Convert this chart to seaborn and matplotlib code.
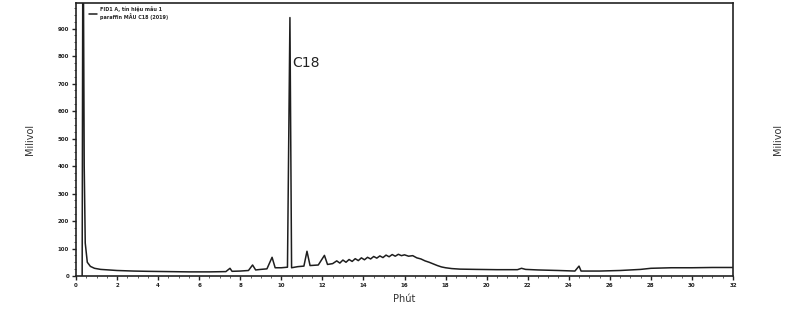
import matplotlib
matplotlib.use("Agg")
import matplotlib.pyplot as plt
import seaborn as sns
import pandas as pd
from matplotlib.ticker import MultipleLocator

sns.set_theme(style="white")
plt.rcParams['font.family'] = ['DejaVu Sans']

# Retention time (minutes) and detector signal (millivolt)
time_min = [0.30, 0.33, 0.36, 0.40, 0.45, 0.55, 0.70, 0.90, 1.20, 1.60, 2.00, 2.80,
            3.50, 4.50, 5.50, 6.50, 7.30, 7.50, 7.60, 8.00, 8.40, 8.60, 8.75, 9.00,
            9.30, 9.55, 9.70, 10.00, 10.30, 10.42, 10.50, 10.80, 11.10, 11.25, 11.40,
            11.80, 12.10, 12.25, 12.50, 12.70, 12.85, 13.00, 13.15, 13.30, 13.45,
            13.60, 13.75, 13.90, 14.05, 14.20, 14.35, 14.50, 14.65, 14.80, 14.95,
            15.10, 15.25, 15.40, 15.55, 15.70, 15.85, 16.00, 16.20, 16.40, 16.60,
            16.80, 17.00, 17.20, 17.40, 17.60, 17.80, 18.00, 18.30, 18.70, 19.50,
            20.50, 21.50, 21.70, 21.90, 22.50, 23.50, 24.30, 24.50, 24.60, 25.50,
            26.50, 27.50, 28.00, 29.00, 30.00, 31.00, 32.00]
signal_mv = [0, 1100, 1100, 400, 120, 50, 35, 28, 24, 22, 20, 18,
             17, 16, 15, 15, 16, 28, 17, 18, 20, 40, 22, 24,
             26, 68, 30, 30, 32, 940, 30, 34, 36, 90, 38,
             40, 75, 42, 45, 55, 47, 58, 50, 60, 53,
             63, 56, 66, 59, 68, 62, 71, 65, 73, 67,
             76, 70, 78, 72, 79, 74, 77, 72, 74, 66,
             62, 55, 50, 44, 38, 33, 30, 27, 25, 24,
             23, 23, 28, 24, 22, 20, 18, 36, 18, 18,
             20, 24, 28, 30, 30, 31, 31]

x_ticks = list(range(0, 33, 2))
y_ticks = list(range(0, 1000, 100))
legend_label = "FID1 A, tín hiệu mẫu 1\nparaffin MẪU C18 (2019)"
peak_label = "C18"
peak_time = 10.42
peak_text_y = 775

df = pd.DataFrame({"Phút": time_min, "Milivol": signal_mv})

fig = plt.figure(figsize=(7.93, 3.19), dpi=100)
ax = fig.add_axes([76/793, 1-276/319, (733-76)/793, (276-3)/319])
sns.lineplot(data=df, x="Phút", y="Milivol", ax=ax, color="#1e1e1e",
             linewidth=1.1, estimator=None, sort=False, label=legend_label)

ax.set_xlim(0, 32)
ax.set_ylim(0, 993)
ax.set_xticks(x_ticks)
ax.set_yticks(y_ticks)
ax.xaxis.set_minor_locator(MultipleLocator(0.5))
ax.yaxis.set_minor_locator(MultipleLocator(25))
ax.tick_params(axis="both", which="major", direction="out", length=3, width=1,
               labelsize=4, color="#222222", labelcolor="#222222", pad=2,
               left=True, bottom=True, right=True, labelright=True)
ax.tick_params(axis="both", which="minor", direction="out", length=1.5, width=0.6,
               left=True, bottom=True, right=True, color="#444444")
for lab in ax.get_xticklabels() + ax.get_yticklabels():
    lab.set_fontweight("bold")
for sp in ax.spines.values():
    sp.set_color("#222222")
    sp.set_linewidth(1.2)

ax.set_xlabel("Phút", fontsize=7, color="#333333", labelpad=4)
ax.set_ylabel("Milivol", fontsize=7, color="#333333", labelpad=16)
ax2 = ax.twinx()
ax2.set_ylim(ax.get_ylim())
ax2.set_yticks([])
ax2.set_ylabel("Milivol", fontsize=7, color="#333333", labelpad=29)
for sp in ax2.spines.values():
    sp.set_visible(False)

ax.text(peak_time + 0.1, peak_text_y, peak_label, fontsize=10, color="#222222",
        va="center", ha="left")

leg = ax.legend(loc="upper left", bbox_to_anchor=(0.015, 1.0), frameon=False,
                fontsize=3.5, handlelength=1.5, borderaxespad=0.3)
for t in leg.get_texts():
    t.set_fontweight("bold")

fig.savefig("out.png", dpi=100)
